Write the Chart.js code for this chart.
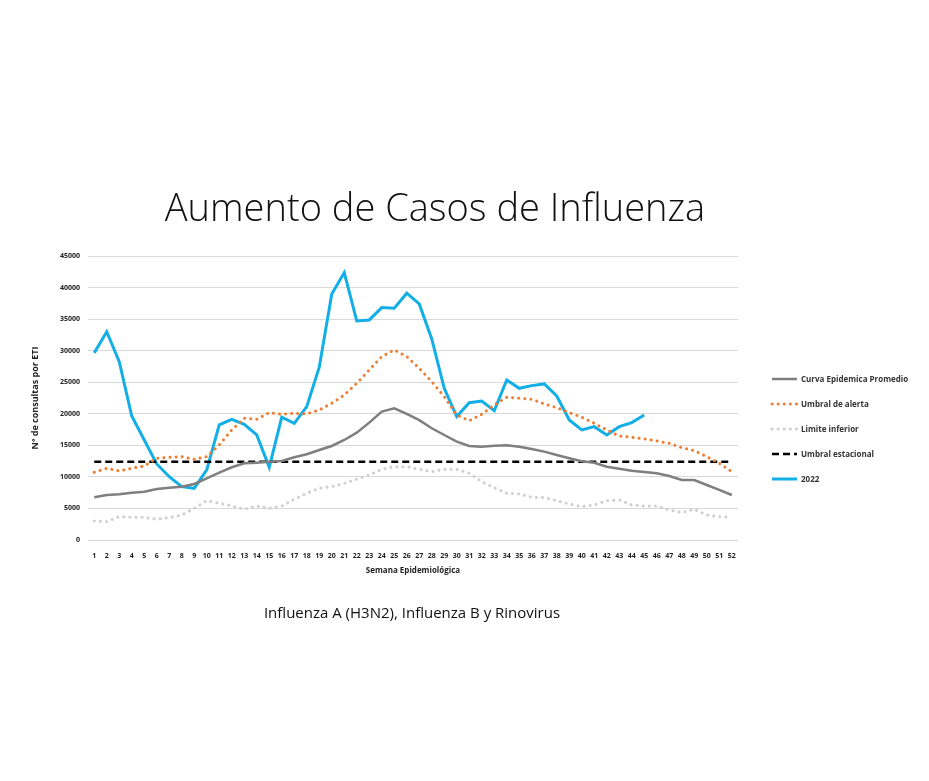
<!DOCTYPE html>
<html>
<head>
<meta charset="utf-8">
<script src="https://cdn.jsdelivr.net/npm/chart.js@4/dist/chart.umd.min.js"></script>
<style>
  body { margin: 0; background: #fff; font-family: "Open Sans", sans-serif; }
  #wrap { position: relative; width: 929px; height: 781px; }
  #chart { position: absolute; left: 0; top: 0; }
  .title { position: absolute; left: 0; width: 870px; text-align: center; top: 180px;
           font-size: 38px; font-weight: 300; color: #111; }
  .subtitle { position: absolute; left: 0; width: 824px; text-align: center; top: 602px;
              font-size: 15px; color: #111; }
  .legend { position: absolute; left: 770px; top: 366px; }
  .legend div { height: 25px; display: flex; align-items: center; font-size: 8px;
                font-weight: bold; color: #333; }
  .legend svg { margin-right: 3px; }
</style>
</head>
<body>
<div id="wrap">
  <canvas id="chart" width="929" height="781"></canvas>
  <div class="title">Aumento de Casos de Influenza</div>
  <div class="subtitle">Influenza A (H3N2), Influenza B y Rinovirus</div>
  <div class="legend" id="legend"></div>
</div>
<script>
const weeks = [];
for (let w = 1; w <= 52; w++) weeks.push(String(w));

const curvaPromedio = [6770, 7130, 7240, 7500, 7660, 8080, 8290, 8450, 8880, 9780,
  10670, 11520, 12150, 12250, 12410, 12520, 13100, 13580, 14260, 14900,
  15850, 17010, 18600, 20340, 20870, 19970, 19000, 17700, 16640, 15580,
  14900, 14790, 14950, 15000, 14790, 14420, 14000, 13470, 12950, 12470,
  12250, 11620, 11300, 10980, 10780, 10570, 10140, 9510, 9510, 8720,
  7930, 7130];

const umbralAlerta = [10730, 11360, 10940, 11360, 11730, 12950, 13100, 13200, 12790, 13200,
  15060, 17440, 19290, 19130, 20180, 19920, 20080, 19970, 20600, 21660,
  22980, 24830, 26950, 29060, 30120, 29060, 27210, 25090, 22710, 19810,
  18910, 19920, 21400, 22620, 22460, 22300, 21560, 20970, 20180, 19450,
  18490, 17440, 16480, 16270, 16010, 15690, 15320, 14630, 14160, 13200,
  12150, 10830];

const limiteInferior = [3010, 2900, 3700, 3600, 3600, 3280, 3540, 3960, 5020, 6230,
  5820, 5390, 4870, 5390, 5020, 5390, 6450, 7400, 8190, 8450,
  8990, 9620, 10300, 11200, 11620, 11620, 11200, 10830, 11200, 11200,
  10570, 9250, 8290, 7400, 7290, 6770, 6710, 6230, 5710, 5280,
  5550, 6230, 6340, 5550, 5390, 5390, 4760, 4330, 4870, 3960,
  3700, 3600];

const umbralEstacional = weeks.map(() => 12400);

const casos2022 = [29650, 33000, 28260, 19650, 15850, 12050, 10030, 8450, 8190, 11100,
  18230, 19130, 18340, 16640, 11520, 19450, 18490, 21130, 27370, 38990,
  42370, 34710, 34870, 36820, 36720, 39100, 37400, 31860, 24040, 19550,
  21760, 22030, 20500, 25360, 24040, 24460, 24730, 22820, 19020, 17440,
  17960, 16640, 17960, 18600, 19810];

const yTicks = [0, 5000, 10000, 15000, 20000, 25000, 30000, 35000, 40000, 45000];

const series = [
  { label: 'Curva Epidemica Promedio', data: curvaPromedio, color: '#7f7f7f', width: 2.5, dash: [] },
  { label: 'Umbral de alerta', data: umbralAlerta, color: '#ed7d31', width: 3, dash: [0.1, 6] },
  { label: 'Limite inferior', data: limiteInferior, color: '#cfcfcf', width: 3, dash: [0.1, 6] },
  { label: 'Umbral estacional', data: umbralEstacional, color: '#000000', width: 2.5, dash: [7, 4] },
  { label: '2022', data: casos2022, color: '#12aee6', width: 3, dash: [] }
];

const tickFont = { family: 'Open Sans', size: 7, weight: 'bold' };

new Chart(document.getElementById('chart'), {
  type: 'line',
  data: {
    labels: weeks,
    datasets: series.map(s => ({
      label: s.label,
      data: s.data,
      borderColor: s.color,
      borderWidth: s.width,
      borderDash: s.dash,
      borderCapStyle: s.dash.length && s.dash[0] < 1 ? 'round' : 'butt',
      pointRadius: 0,
      tension: 0,
      fill: false
    }))
  },
  options: {
    responsive: false,
    animation: false,
    layout: { padding: { left: 26, right: 191, top: 256, bottom: 201 } },
    plugins: { legend: { display: false }, tooltip: { enabled: false } },
    scales: {
      x: {
        offset: true,
        grid: { display: false, offset: true },
        border: { display: false },
        ticks: { color: '#222', font: tickFont, maxRotation: 0, autoSkip: false, padding: 4 },
        title: { display: true, text: 'Semana Epidemiológica', color: '#222',
                 font: { family: 'Open Sans', size: 8, weight: 'bold' }, padding: { top: 8 } },
        afterFit: s => { s.height = 40; }
      },
      y: {
        min: 0, max: 45000,
        afterBuildTicks: s => { s.ticks = yTicks.map(v => ({ value: v })); },
        grid: { color: '#d9d9d9', lineWidth: 1, drawTicks: false },
        border: { display: false },
        ticks: { color: '#222', font: tickFont, padding: 8, callback: v => String(v) },
        title: { display: true, text: 'Nº de consultas por ETI', color: '#222',
                 font: { family: 'Open Sans', size: 9, weight: 'bold' } },
        afterFit: s => { s.width = 62; }
      }
    }
  }
});

// legend on the right
const legend = document.getElementById('legend');
series.forEach(s => {
  const row = document.createElement('div');
  const dash = s.dash.length ? (s.dash[0] < 1 ? '0.1 6' : '7 4') : 'none';
  const cap = s.dash.length && s.dash[0] < 1 ? 'round' : 'butt';
  row.innerHTML = '<svg width="28" height="6"><line x1="2" y1="3" x2="27" y2="3" stroke="' + s.color +
    '" stroke-width="' + s.width + '" stroke-dasharray="' + dash + '" stroke-linecap="' + cap + '"/></svg>' +
    '<span>' + s.label + '</span>';
  legend.appendChild(row);
});
</script>
</body>
</html>
